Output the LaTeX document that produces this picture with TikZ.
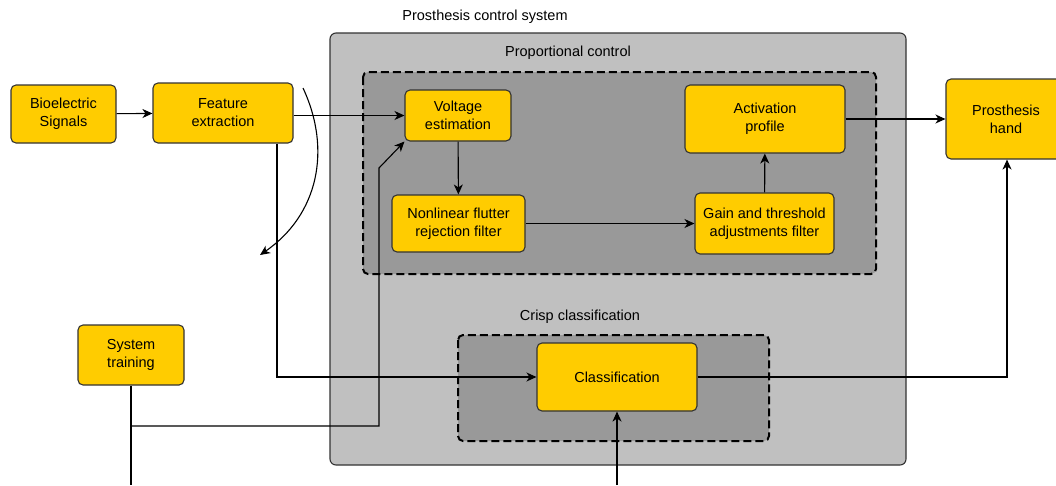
\documentclass[tikz,border=0pt]{standalone}
\usepackage{fontspec}
\setmainfont{Liberation Sans}
\usetikzlibrary{arrows.meta}
\definecolor{boxyellow}{HTML}{FFCC00}
\definecolor{outergray}{HTML}{C0C0C0}
\definecolor{innergray}{HTML}{999999}
\definecolor{edgedark}{HTML}{333333}
\tikzset{
  blk/.style={draw=edgedark, line width=1.1pt, fill=boxyellow, rounded corners=5pt, align=center, inner sep=0pt,
    font=\fontsize{14.5}{18}\selectfont},
  lbl/.style={font=\fontsize{14.5}{18}\selectfont, inner sep=0pt},
  conn/.style={line width=1.1pt, draw=black},
  arr/.style={conn, -{Stealth[length=10pt,width=9pt,inset=3pt]}},
  dashbox/.style={draw=black, line width=2pt, dash pattern=on 8pt off 4pt, fill=innergray, rounded corners=5pt},
}
\begin{document}
\begin{tikzpicture}[x=1pt,y=-1pt]
\clip (0,0) rectangle (1056,485);
\fill[white] (0,0) rectangle (1056,485);
% containers
\draw[draw=edgedark, line width=1.1pt, fill=outergray, rounded corners=6pt] (330,33) rectangle (906,465);
\node[lbl] (title) at (485,17) {Prosthesis control system};
\draw[dashbox] (363,72) rectangle (876,274);
\node[lbl] (proplbl) at (568,53) {Proportional control};
\draw[dashbox] (458,335) rectangle (769,441);
\node[lbl] (crisplbl) at (580,317) {Crisp classification};
% blocks
\node[blk, minimum width=105pt, minimum height=58pt] (bio) at (63.5,114) {Bioelectric\\Signals};
\node[blk, minimum width=140pt, minimum height=60pt] (feat) at (223,113) {Feature\\extraction};
\node[blk, minimum width=106pt, minimum height=51pt] (volt) at (458,115.5) {Voltage\\estimation};
\node[blk, minimum width=160pt, minimum height=68pt] (act) at (765,119) {Activation\\profile};
\node[blk, minimum width=133pt, minimum height=57pt] (nlf) at (458.5,223.5) {Nonlinear flutter\\rejection filter};
\node[blk, minimum width=139pt, minimum height=61pt] (gain) at (764.5,223.5) {Gain and threshold\\adjustments filter};
\node[blk, minimum width=120pt, minimum height=80pt, text width=120pt] (hand) at (1006,119) {Prosthesis\\hand};
\node[blk, minimum width=160pt, minimum height=68pt] (cls) at (617,377) {Classification};
\node[blk, minimum width=106pt, minimum height=60pt] (train) at (131,355) {System\\training};
% free ends
\coordinate (cs) at (303,88);
\coordinate (ce) at (260,255);
\coordinate (tb) at (131,485);
\coordinate (tj) at (131,426);
\coordinate (tc) at (379,426);
\coordinate (tk) at (379,168);
\coordinate (cb) at (617,485);
% connectors
\draw[arr] (bio) -- (feat);
\draw[arr] (feat.east |- volt.west) -- (volt.west);
\draw[arr] ([xshift=54pt]feat.south) |- (cls.west);
\draw[arr] (cs) .. controls (332,150) and (318,215) .. (ce);
\draw[conn] (train.south) -- (tb);
\draw[arr] (tj) -- (tc) -- (tk) -- (volt.south west);
\draw[arr] (volt) -- (nlf);
\draw[arr] (nlf) -- (gain);
\draw[arr] (gain) -- (act);
\draw[arr] (act.east) -- (hand.west |- act.east);
\draw[arr] (cls.east) -| ([xshift=1pt]hand.south);
\draw[arr] (cb) -- (cls.south);
\end{tikzpicture}
\end{document}
